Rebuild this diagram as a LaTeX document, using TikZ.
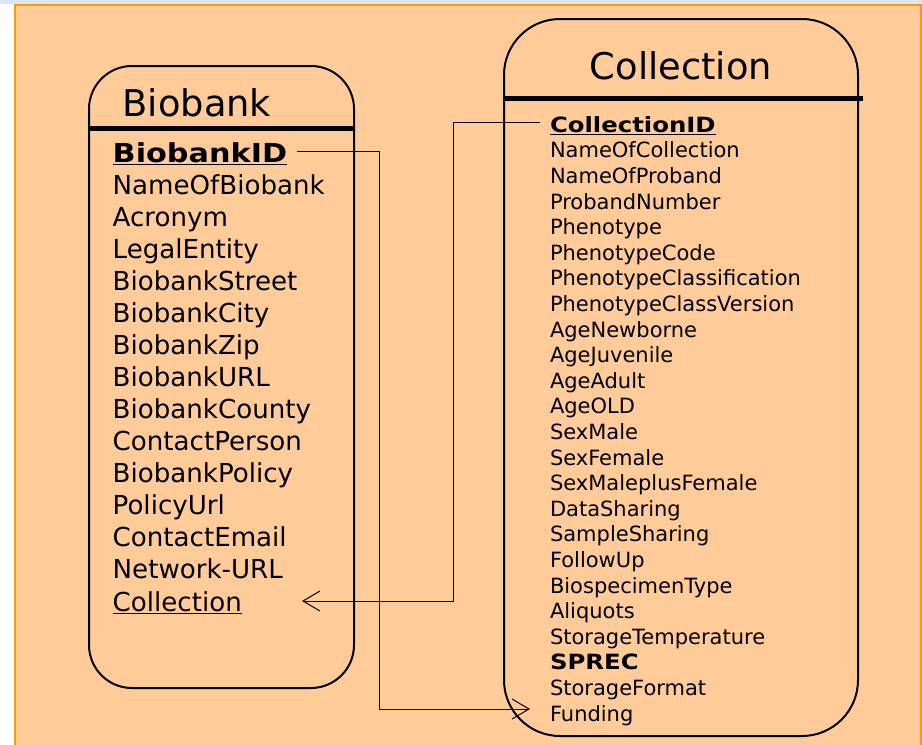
\documentclass[tikz,border=0pt]{standalone}
\usepackage{fontspec}
\setmainfont{DejaVu Sans}
\newfontface\widebold[FakeStretch=1.16]{DejaVu Sans Bold}
\usetikzlibrary{arrows.meta}
\definecolor{peach}{HTML}{FFCC99}
\definecolor{orangeline}{HTML}{FF9900}
\definecolor{topstrip}{HTML}{DCE6F2}
\tikzset{
  x=1pt,y=-1pt,
  entity/.style={draw=black, line width=2pt, inner sep=0pt, outer sep=0pt},
  headline/.style={line width=5pt},
  ltitle/.style={anchor=base west, inner sep=0pt, font=\fontsize{36.8}{40}\selectfont},
  litem/.style={anchor=base west, inner sep=0pt, font=\fontsize{26.1}{30}\selectfont},
  ritem/.style={anchor=base west, inner sep=0pt, font=\fontsize{21}{24}\selectfont},
  conn/.style={line width=1pt, -{Straight Barb[length=17pt,width=20pt,line width=1pt]}},
}
\newcommand{\keyattr}[1]{{\widebold\underline{#1}}}
\begin{document}
\begin{tikzpicture}
\useasboundingbox (0,0) rectangle (922,745);
\fill[white] (0,0) rectangle (922,745);
\fill[topstrip] (0,0) rectangle (922,4);
\fill[peach] (15,4) rectangle (922,745);
\draw[orangeline, line width=2pt] (15,745) -- (15,5) -- (921,5) -- (921,745);

% Biobank entity
\node[entity, rounded corners=43pt, minimum width=265pt, minimum height=622pt] (biobank) at (221.5,377) {};
\draw[headline] (biobank.west |- 0,128) -- (355,128);
\node[ltitle] (btitle) at (122.5,116) {Biobank};

% Collection entity
\node[entity, rounded corners=56pt, minimum width=354pt, minimum height=717pt] (collection) at (681,377.5) {};
\draw[headline] (collection.west |- 0,98) -- (863,98);
\node[ltitle, anchor=base] (ctitle) at (681,79) {Collection};

% Biobank attributes
\foreach \t [count=\i from 0] in {{\keyattr{BiobankID}},NameOfBiobank,Acronym,LegalEntity,BiobankStreet,BiobankCity,BiobankZip,BiobankURL,BiobankCounty,ContactPerson,BiobankPolicy,PolicyUrl,ContactEmail,Network-URL,{\underline{Collection}}}
  \node[litem] (L\i) at (112.5,162.3+32.05*\i) {\t};

% Collection attributes
\foreach \t [count=\i from 0] in {{\keyattr{CollectionID}},NameOfCollection,NameOfProband,ProbandNumber,Phenotype,PhenotypeCode,PhenotypeClassification,PhenotypeClassVersion,AgeNewborne,AgeJuvenile,AgeAdult,AgeOLD,SexMale,SexFemale,SexMaleplusFemale,DataSharing,SampleSharing,FollowUp,BiospecimenType,Aliquots,StorageTemperature,{{\widebold SPREC}},StorageFormat,Funding}
  \node[ritem] (R\i) at (549.8,132.3+25.6*\i) {\t};

% Connector end points
\coordinate (c1s) at (297,151);
\coordinate (c1e) at (530,709);
\coordinate (c2s) at (540,122);
\coordinate (c2e) at (302,601);

% Connectors
\draw[conn] (c1s) -- (379,151) |- (c1e);
\draw[conn] (c2s) -- (453,122) |- (c2e);
\end{tikzpicture}
\end{document}
